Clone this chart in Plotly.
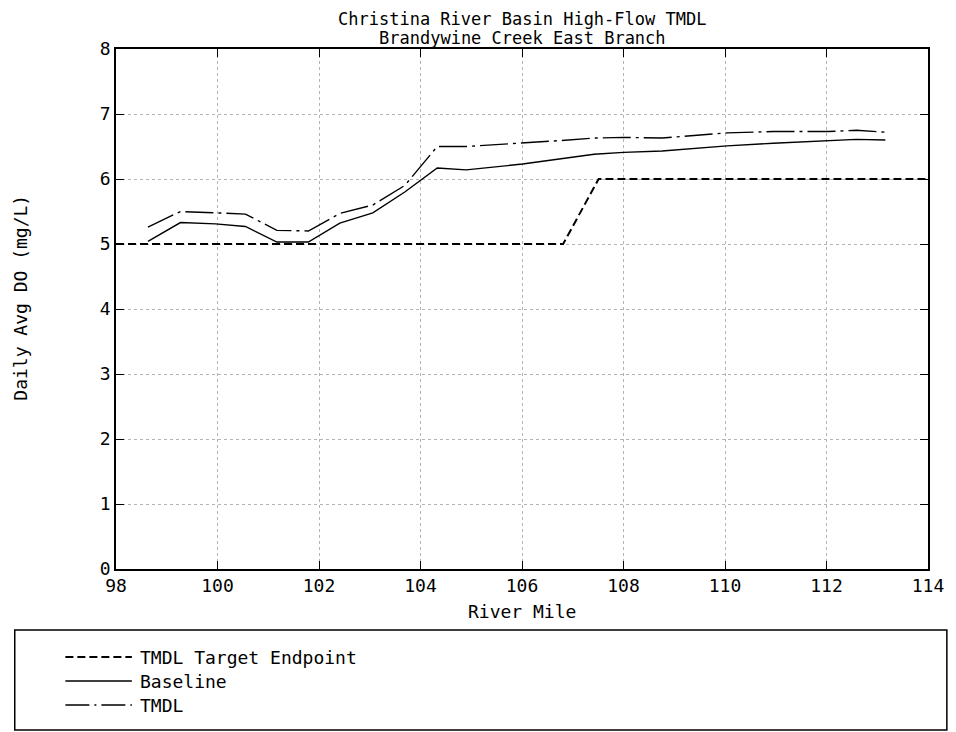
import plotly.graph_objects as go

# ---- data ----
target_x = [98.0, 106.81, 107.51, 114.0]
target_y = [5.0, 5.0, 6.0, 6.0]

baseline_x = [98.63, 99.27, 99.96, 100.55, 101.17, 101.79, 102.41, 103.06, 103.69,
              104.33, 104.90, 106.01, 107.42, 108.00, 108.76, 110.04, 110.95,
              112.03, 112.59, 113.16]
baseline_y = [5.04, 5.33, 5.31, 5.27, 5.03, 5.03, 5.32, 5.48, 5.80,
              6.17, 6.14, 6.23, 6.38, 6.41, 6.43, 6.51, 6.55,
              6.59, 6.61, 6.60]

tmdl_x = [98.63, 99.27, 99.96, 100.55, 101.17, 101.79, 102.41, 103.06, 103.69,
          104.33, 104.90, 106.01, 106.73, 107.42, 108.00, 108.76, 110.04,
          110.95, 112.03, 112.59, 113.16]
tmdl_y = [5.26, 5.50, 5.48, 5.46, 5.21, 5.20, 5.47, 5.60, 5.90,
          6.50, 6.50, 6.55, 6.59, 6.63, 6.64, 6.63, 6.71,
          6.73, 6.73, 6.75, 6.72]

x_ticks = [98, 100, 102, 104, 106, 108, 110, 112, 114]
y_ticks = [0, 1, 2, 3, 4, 5, 6, 7, 8]

title_lines = ["Christina River Basin High-Flow TMDL", "Brandywine Creek East Branch"]
legend_names = ["TMDL Target Endpoint", "Baseline", "TMDL"]

# ---- layout geometry (page pixels; the page body adds an 8px margin) ----
PAGE_W, PAGE_H = 956, 732
OFF = 8
W, H = PAGE_W - OFF, PAGE_H - OFF
L, R, T, B = 116, 934, 49, 569   # plot area in page pixels
FONT = "DejaVu Sans Mono"
FS = 18

def px(x):
    return (x - L) / (R - L)

def py(y):
    return (B - y) / (B - T)

dash_target = "8px,4px"
dash_tmdl = "28px,5px,3px,5px"

fig = go.Figure()
fig.add_trace(go.Scatter(x=target_x, y=target_y, mode="lines", name=legend_names[0],
                         line=dict(color="black", width=2, dash=dash_target)))
fig.add_trace(go.Scatter(x=baseline_x, y=baseline_y, mode="lines", name=legend_names[1],
                         line=dict(color="black", width=1.4)))
fig.add_trace(go.Scatter(x=tmdl_x, y=tmdl_y, mode="lines", name=legend_names[2],
                         line=dict(color="black", width=1.4, dash=dash_tmdl)))

axis_common = dict(
    showline=True, linecolor="black", linewidth=1.5, mirror="allticks",
    ticks="inside", ticklen=8, tickcolor="black", tickwidth=1,
    showgrid=True, gridcolor="#b4b4b4", griddash="dot", gridwidth=1,
    zeroline=False, tickfont=dict(family=FONT, size=FS, color="black"),
)

fig.update_layout(
    width=W, height=H,
    margin=dict(l=L - OFF, r=PAGE_W - R, t=T - OFF, b=PAGE_H - B, pad=0),
    paper_bgcolor="white", plot_bgcolor="white",
    showlegend=False,
    xaxis=dict(range=[98, 114], tickvals=x_ticks, ticktext=[str(v) for v in x_ticks], **axis_common),
    yaxis=dict(range=[0, 8], tickvals=y_ticks, ticktext=[str(v) for v in y_ticks], **axis_common),
    font=dict(family=FONT, size=FS, color="black"),
)

annotations = []
# title lines
for txt, yline in zip(title_lines, [19, 38]):
    annotations.append(dict(text=txt, x=px((L + R) / 2), y=py(yline), xref="paper", yref="paper",
                            showarrow=False, xanchor="center", yanchor="middle",
                            font=dict(family=FONT, size=17, color="black")))
# axis titles
annotations.append(dict(text="River Mile", x=px((L + R) / 2), y=py(611), xref="paper", yref="paper",
                        showarrow=False, xanchor="center", yanchor="middle",
                        font=dict(family=FONT, size=FS, color="black")))
annotations.append(dict(text="Daily Avg DO (mg/L)", x=px(19), y=py(298), xref="paper", yref="paper",
                        showarrow=False, xanchor="center", yanchor="middle", textangle=-90,
                        font=dict(family=FONT, size=FS, color="black")))

shapes = []
# legend box
shapes.append(dict(type="rect", xref="paper", yref="paper", x0=px(14), x1=px(953), y0=py(630), y1=py(730),
                   line=dict(color="black", width=1.5), fillcolor="rgba(0,0,0,0)"))
legend_rows = [657, 681, 705]
legend_styles = [dict(color="black", width=2, dash=dash_target),
                 dict(color="black", width=1.4),
                 dict(color="black", width=1.4, dash="24px,5px,2px,5px")]
for name, yrow, st in zip(legend_names, legend_rows, legend_styles):
    shapes.append(dict(type="line", xref="paper", yref="paper", x0=px(65), x1=px(132),
                       y0=py(yrow), y1=py(yrow), line=st))
    annotations.append(dict(text=name, x=px(138), y=py(yrow), xref="paper", yref="paper",
                            showarrow=False, xanchor="left", yanchor="middle",
                            font=dict(family=FONT, size=FS, color="black")))

fig.update_layout(annotations=annotations, shapes=shapes)
fig.write_html("out.html")
